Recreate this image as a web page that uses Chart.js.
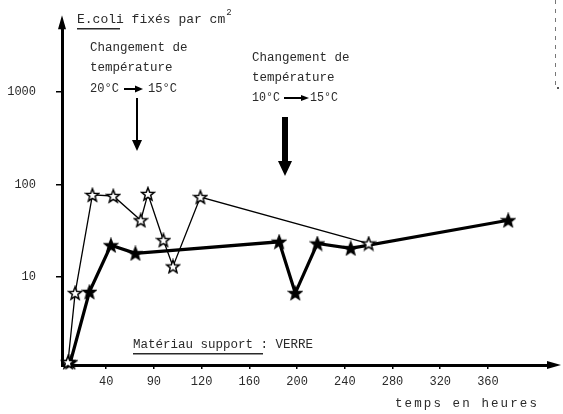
<!DOCTYPE html>
<html>
<head>
<meta charset="utf-8">
<script src="https://cdn.jsdelivr.net/npm/chart.js@4/dist/chart.umd.min.js"></script>
<style>
  html, body { margin: 0; padding: 0; background: #fff; }
  #wrap { width: 563px; height: 414px; }
</style>
</head>
<body>
<div id="wrap"><canvas id="c"></canvas></div>
<script>
// E.coli fixed per cm2 on glass, vs time (hours)
const openHours = [8, 14, 28.5, 46, 69, 75, 88, 96, 119, 260];
const openCounts = [1.2, 6.7, 77, 75, 41, 79, 25, 13, 73, 23];
const filledHours = [10, 26, 44, 64.5, 185, 198.5, 217, 245, 377];
const filledCounts = [1.2, 6.9, 22, 18, 24, 6.7, 23, 20.4, 41];
const xTicks = [40, 80, 120, 160, 200, 240, 280, 320, 360];
const xTickLabels = ['40', '90', '120', '160', '200', '240', '280', '320', '360'];
const yTicks = [10, 100, 1000];
const yTickLabels = ['10', '100', '1000'];

const FONT = '"Liberation Mono", "DejaVu Sans Mono", monospace';
const INK = '#2a2a2a';

// five point star markers
function makeStar(filled) {
  const s = 16, c = document.createElement('canvas');
  c.width = c.height = s;
  const g = c.getContext('2d');
  const cx = s / 2, cy = s / 2 + 0.5, R = 6.8, r = 2.9;
  g.beginPath();
  for (let i = 0; i < 10; i++) {
    const a = -Math.PI / 2 + i * Math.PI / 5;
    const rr = i % 2 ? r : R;
    g.lineTo(cx + rr * Math.cos(a), cy + rr * Math.sin(a));
  }
  g.closePath();
  g.fillStyle = filled ? '#000' : '#fff';
  g.fill();
  g.lineWidth = 1.5;
  g.strokeStyle = '#000';
  g.stroke();
  return c;
}

function arrowHead(ctx, x, y, dir, len, half) {
  ctx.beginPath();
  if (dir === 'down') {
    ctx.moveTo(x, y); ctx.lineTo(x - half, y - len); ctx.lineTo(x + half, y - len);
  } else if (dir === 'up') {
    ctx.moveTo(x, y); ctx.lineTo(x - half, y + len); ctx.lineTo(x + half, y + len);
  } else {
    ctx.moveTo(x, y); ctx.lineTo(x - len, y - half); ctx.lineTo(x - len, y + half);
  }
  ctx.closePath();
  ctx.fill();
}

const notes = {
  id: 'notes',
  afterDraw(chart) {
    const ctx = chart.ctx, a = chart.chartArea;
    ctx.save();
    ctx.fillStyle = '#000';
    // axis arrows
    arrowHead(ctx, a.left, a.top - 12, 'up', 14, 4);
    ctx.fillRect(a.left - 1.5, a.top - 2, 3, 4);
    arrowHead(ctx, a.right + 11, a.bottom, 'right', 14, 4);

    ctx.fillStyle = INK;
    ctx.textBaseline = 'middle';
    // y title
    ctx.font = '13px ' + FONT;
    const t = 'E.coli fixés par cm';
    ctx.fillText(t, 77, 20);
    const tw = ctx.measureText(t).width;
    ctx.font = '9px ' + FONT;
    ctx.fillText('2', 77 + tw + 1, 13);
    ctx.fillRect(77, 28, 43, 1.5);

    ctx.font = '12.5px ' + FONT;
    // first note
    ctx.fillText('Changement de', 90, 48);
    ctx.fillText('température', 90, 68);
    ctx.fillText('20°C', 90, 89, 29);
    ctx.fillText('15°C', 148, 89, 29);
    ctx.fillStyle = '#000';
    ctx.fillRect(124, 88, 12, 2);
    arrowHead(ctx, 143, 89, 'right', 8, 3.5);
    ctx.fillRect(136, 98, 2, 43);
    arrowHead(ctx, 137, 151, 'down', 11, 5);

    // second note
    ctx.fillStyle = INK;
    ctx.fillText('Changement de', 252, 58);
    ctx.fillText('température', 252, 78);
    ctx.fillText('10°C', 252, 98, 28);
    ctx.fillText('15°C', 310, 98, 28);
    ctx.fillStyle = '#000';
    ctx.fillRect(284, 97, 19, 2);
    arrowHead(ctx, 309, 98, 'right', 8, 3);
    ctx.fillRect(282, 117, 6, 45);
    arrowHead(ctx, 285, 176, 'down', 15, 7);

    // support material
    ctx.fillStyle = INK;
    ctx.fillText('Matériau support : VERRE', 133, 345);
    ctx.fillRect(133, 353, 130, 1.5);

    // x title
    ctx.letterSpacing = '2.1px';
    ctx.fillText('temps en heures', 395, 404);
    ctx.letterSpacing = '0px';

    // scan mark top right
    ctx.strokeStyle = '#777';
    ctx.lineWidth = 1;
    ctx.setLineDash([4, 5]);
    ctx.beginPath();
    ctx.moveTo(555.5, 0); ctx.lineTo(555.5, 86);
    ctx.stroke();
    ctx.setLineDash([]);
    ctx.fillStyle = '#555';
    ctx.fillRect(557, 87, 2, 2);
    ctx.restore();
  }
};

new Chart(document.getElementById('c'), {
  type: 'scatter',
  data: {
    datasets: [
      {
        label: 'open',
        data: openHours.map((h, i) => ({ x: h, y: openCounts[i] })),
        showLine: true,
        borderColor: '#000',
        borderWidth: 1.3,
        pointStyle: makeStar(false),
        pointRadius: 7,
        clip: false
      },
      {
        label: 'filled',
        data: filledHours.map((h, i) => ({ x: h, y: filledCounts[i] })),
        showLine: true,
        borderColor: '#000',
        borderWidth: 3.2,
        pointStyle: makeStar(true),
        pointRadius: 7,
        clip: false
      }
    ]
  },
  options: {
    responsive: true,
    maintainAspectRatio: false,
    animation: false,
    layout: { padding: { top: 24, right: 13, left: 0, bottom: 0 } },
    plugins: { legend: { display: false }, tooltip: { enabled: false } },
    scales: {
      x: {
        type: 'linear',
        min: 3,
        max: 412,
        afterBuildTicks: s => { s.ticks = xTicks.map(v => ({ value: v })); },
        afterFit: s => { s.height = 49; },
        ticks: {
          color: INK,
          font: { family: FONT, size: 12 },
          padding: 6,
          maxRotation: 0,
          callback: v => xTickLabels[xTicks.indexOf(v)]
        },
        grid: { display: true, drawOnChartArea: false, color: '#000', tickLength: 4, lineWidth: 1.5 },
        border: { color: '#000', width: 3 }
      },
      y: {
        type: 'logarithmic',
        min: 1.12,
        max: 5000,
        afterBuildTicks: s => { s.ticks = yTicks.map(v => ({ value: v })); },
        afterFit: s => { s.width = 62; },
        ticks: {
          color: INK,
          font: { family: FONT, size: 12 },
          padding: 20,
          callback: v => yTickLabels[yTicks.indexOf(v)]
        },
        grid: { display: true, drawOnChartArea: false, color: '#000', tickLength: 6, lineWidth: 1.5 },
        border: { color: '#000', width: 3 }
      }
    }
  },
  plugins: [notes]
});
</script>
</body>
</html>
